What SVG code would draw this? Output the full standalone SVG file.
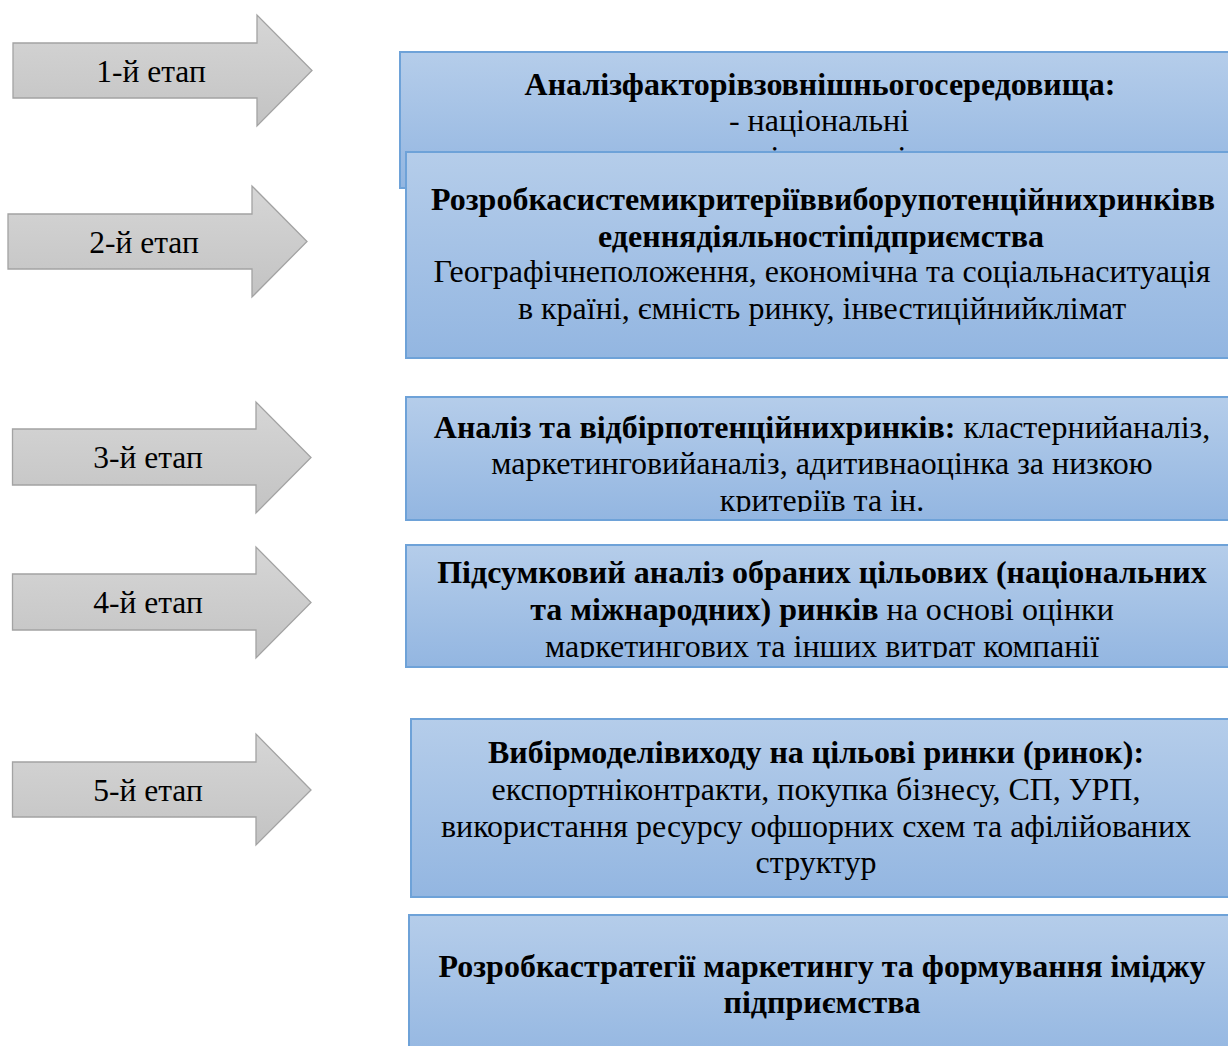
<svg xmlns="http://www.w3.org/2000/svg" width="1228" height="1046" viewBox="0 0 1228 1046">
<defs>
<linearGradient id="gBlue" x1="0" y1="0" x2="0" y2="1">
<stop offset="0" stop-color="#b5cdea"/>
<stop offset="1" stop-color="#93b6e1"/>
</linearGradient>
<linearGradient id="gGray" x1="0" y1="0" x2="0" y2="1">
<stop offset="0" stop-color="#d6d6d6"/>
<stop offset="1" stop-color="#c3c3c3"/>
</linearGradient>
<clipPath id="c3"><rect x="400" y="395" width="840" height="117"/></clipPath>
<clipPath id="c4"><rect x="400" y="543" width="840" height="115"/></clipPath>
<clipPath id="c1"><rect x="400" y="50" width="840" height="130"/></clipPath>
</defs>
<style>
.arrow{fill:url(#gGray);stroke:#a3a3a3;stroke-width:1.3}
.box{fill:url(#gBlue);stroke:#6ea2d8;stroke-width:2}
.lbl{font-family:"Liberation Serif","Times New Roman",serif;font-size:31.5px;fill:#000;text-anchor:middle}
.t{font-family:"Liberation Serif","Times New Roman",serif;font-size:32px;fill:#000;text-anchor:middle}
.b{font-weight:bold}
</style>
<rect width="1228" height="1046" fill="#ffffff"/>
<g id="connectors"/>
<g id="stage1">
<path class="arrow" d="M13,43 H257 V15 L312,70.5 L257,126 V98 H13 Z"/>
<text class="lbl" x="151" y="82">1-й етап</text>
</g>
<g id="stage2">
<path class="arrow" d="M8,214 H252 V186 L307,241.5 L252,297 V269 H8 Z"/>
<text class="lbl" x="144" y="253">2-й етап</text>
</g>
<g id="stage3">
<path class="arrow" d="M12.5,429 H256 V402 L311,457.5 L256,513 V485 H12.5 Z"/>
<text class="lbl" x="148" y="468">3-й етап</text>
</g>
<g id="stage4">
<path class="arrow" d="M12.5,574 H256 V547 L311,602.5 L256,658 V630 H12.5 Z"/>
<text class="lbl" x="148" y="613">4-й етап</text>
</g>
<g id="stage5">
<path class="arrow" d="M12.5,762 H256 V734 L311,790 L256,845 V817 H12.5 Z"/>
<text class="lbl" x="148" y="801">5-й етап</text>
</g>
<g id="box1">
<rect class="box" x="400" y="52" width="840" height="136"/>
<g clip-path="url(#c1)">
<text class="t b" x="820" y="95">Аналізфакторівзовнішньогосередовища:</text>
<text class="t" x="819" y="131">- національні</text>
<text class="t" x="819" y="168">- міжнародні</text>
</g>
</g>
<g id="box2">
<rect class="box" x="406" y="152" width="834" height="206"/>
<text class="t b" x="823" y="210">Розробкасистемикритеріїввиборупотенційнихринківв</text>
<text class="t b" x="821" y="247">еденнядіяльностіпідприємства</text>
<text class="t" x="822" y="282">Географічнеположення, економічна та соціальнаситуація</text>
<text class="t" x="822" y="319">в країні, ємність ринку, інвестиційнийклімат</text>
</g>
<g id="box3">
<rect class="box" x="406" y="397" width="834" height="123"/>
<g clip-path="url(#c3)">
<text class="t" x="822" y="438"><tspan class="b">Аналіз та відбірпотенційнихринків:</tspan> кластернийаналіз,</text>
<text class="t" x="822" y="474">маркетинговийаналіз, адитивнаоцінка за низкою</text>
<text class="t" x="822" y="511">критеріїв та ін.</text>
</g>
</g>
<g id="box4">
<rect class="box" x="406" y="545" width="834" height="122"/>
<g clip-path="url(#c4)">
<text class="t b" x="822" y="583">Підсумковий аналіз обраних цільових (національних</text>
<text class="t" x="822" y="620"><tspan class="b">та міжнародних) ринків</tspan> на основі оцінки</text>
<text class="t" x="822" y="657">маркетингових та інших витрат компанії</text>
</g>
</g>
<g id="box5">
<rect class="box" x="411" y="719" width="829" height="178"/>
<text class="t b" x="816" y="763">Вибірмоделівиходу на цільові ринки (ринок):</text>
<text class="t" x="816" y="800">експортніконтракти, покупка бізнесу, СП, УРП,</text>
<text class="t" x="816" y="837">використання ресурсу офшорних схем та афілійованих</text>
<text class="t" x="816" y="873">структур</text>
</g>
<g id="box6">
<rect class="box" x="409" y="915" width="831" height="150"/>
<text class="t b" x="822" y="977">Розробкастратегії маркетингу та формування іміджу</text>
<text class="t b" x="822" y="1013">підприємства</text>
</g>
</svg>
